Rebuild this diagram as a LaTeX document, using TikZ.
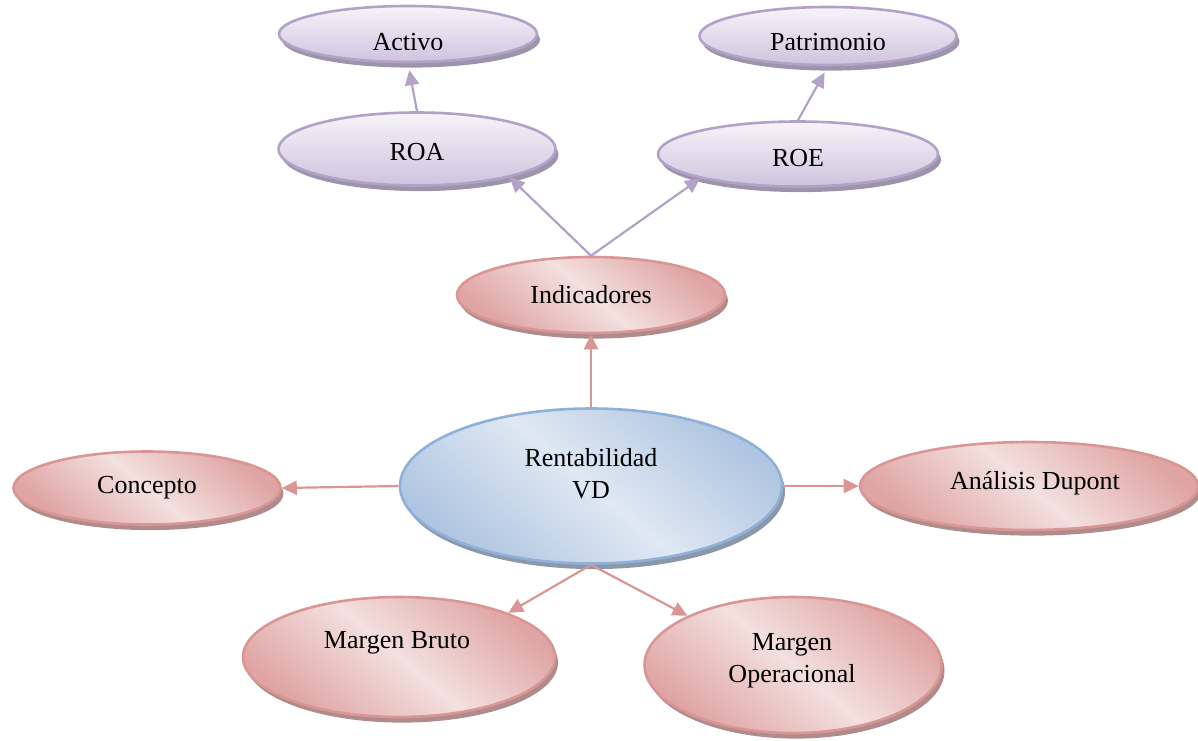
\documentclass[tikz,border=0pt]{standalone}
\usepackage{fontspec}
\setmainfont{Liberation Serif}
\usetikzlibrary{shapes.geometric,arrows.meta,shadows}
\definecolor{purB}{HTML}{B3A2C7}
\definecolor{purL}{HTML}{F6F4F9}
\definecolor{purD}{HTML}{CEC4DE}
\definecolor{purS}{HTML}{9D94AB}
\definecolor{redB}{HTML}{D99694}
\definecolor{redL}{HTML}{F3E0DF}
\definecolor{redD}{HTML}{DFA4A3}
\definecolor{redS}{HTML}{AF8C8B}
\definecolor{bluB}{HTML}{8EB0D9}
\definecolor{bluL}{HTML}{DFE8F3}
\definecolor{bluD}{HTML}{AFC5E1}
\definecolor{bluS}{HTML}{8B98AA}
\tikzset{
  bub/.style={ellipse, inner sep=0pt, line width=1.3pt},
  purbub/.style={bub, draw=purB, top color=purL, bottom color=purD,
    general shadow={shadow xshift=1.5pt, shadow yshift=-2.8pt, fill=purS}},
  redbub/.style={bub, draw=redB, top color=redD, bottom color=redD, middle color=redL,
    shading angle=-40,
    general shadow={shadow xshift=1.5pt, shadow yshift=-2.8pt, fill=redS}},
  blubub/.style={bub, draw=bluB, top color=bluD, bottom color=bluD, middle color=bluL,
    shading angle=-40,
    general shadow={shadow xshift=1.5pt, shadow yshift=-2.8pt, fill=bluS}},
  txt/.style={inner sep=0pt, align=center, font=\fontsize{13}{16}\selectfont},
  purarr/.style={draw=purB, line width=1.1pt, -{Triangle[length=7.5pt,width=7pt]}},
  redarr/.style={draw=redB, line width=1.1pt, -{Triangle[length=7.5pt,width=7pt]}}
}
\begin{document}
\begin{tikzpicture}[x=0.5pt,y=-0.5pt]
\useasboundingbox (0,0) rectangle (1198,740);
% ellipses
\node[purbub, minimum width=129pt, minimum height=28pt] (act) at (408,34) {};
\node[purbub, minimum width=128.5pt, minimum height=29pt] (pat) at (828,36) {};
\node[purbub, minimum width=138.5pt, minimum height=36.5pt] (roa) at (417,149) {};
\node[purbub, minimum width=140pt, minimum height=32.5pt] (roe) at (798,154) {};
\node[redbub, minimum width=134pt, minimum height=38pt] (ind) at (591,295) {};
\node[blubub, minimum width=191pt, minimum height=77.5pt] (rent) at (591,486) {};
\node[redbub, minimum width=133.5pt, minimum height=36.5pt] (con) at (147,488) {};
\node[redbub, minimum width=169pt, minimum height=44pt] (dup) at (1029,486) {};
\node[redbub, minimum width=156pt, minimum height=60pt] (mb) at (399,657) {};
\node[redbub, minimum width=148.5pt, minimum height=68pt] (mo) at (793,665) {};
% texts
\begin{scope}
  \clip (280,0) rectangle (960,49.5);
  \node[txt, anchor=base] (actT) at (408,50) {Activo};
  \node[txt, anchor=base] (patT) at (828,50) {Patrimonio};
\end{scope}
\node[txt] (roaT) at (417,152) {ROA};
\node[txt] (roeT) at (798,158) {ROE};
\node[txt] (indT) at (591,295) {Indicadores};
\node[txt] (rentT) at (591,474) {Rentabilidad\\VD};
\node[txt] (conT) at (147,488) {Concepto};
\node[txt] (dupT) at (1035,483) {Análisis Dupont};
\node[txt] (mbT) at (397,643) {Margen Bruto};
\node[txt] (moT) at (792,661) {Margen\\Operacional};
% connectors
\draw[purarr, shorten >=3.5pt] (roa.north) -- (act.south);
\draw[purarr, shorten >=3.5pt] (roe.north) -- (pat.south);
\draw[purarr] (ind.north) -- (roa.-17);
\draw[purarr] (ind.north) -- (roe.194);
\draw[redarr] (rent.north) -- (ind.south);
\draw[redarr] (rent.west) -- (con.east);
\draw[redarr] (rent.east) -- (dup.west);
\draw[redarr] (rent.south) -- (mb.22);
\draw[redarr] (rent.south) -- (mo.155);
\end{tikzpicture}
\end{document}
